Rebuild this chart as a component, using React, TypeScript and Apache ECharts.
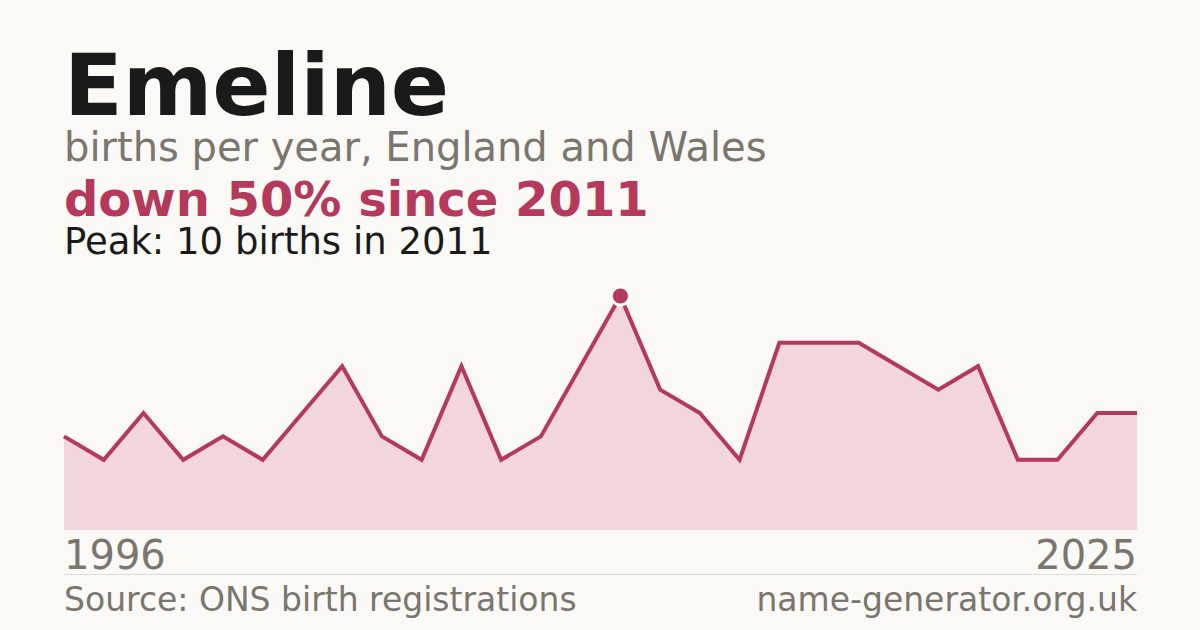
import React, { useEffect, useRef } from 'react';
import * as echarts from 'echarts';

// ONS suppresses counts under 3, so two years have no entry
const years = ['1996', '1997', '1998', '1999', '2000', '2001', '2003', '2004', '2005', '2006', '2007', '2008', '2009', '2010', '2011', '2012', '2013', '2014', '2015', '2016', '2017', '2018', '2019', '2021', '2022', '2023', '2024', '2025'];
const births = [4, 3, 5, 3, 4, 3, 5, 7, 4, 3, 7, 3, 4, 7, 10, 6, 5, 3, 8, 8, 8, 7, 6, 7, 3, 3, 5, 5];

const nameTitle = 'Emeline';
const subtitle = 'births per year, England and Wales';
const sourceText = 'Source: ONS birth registrations';
const siteText = 'name-generator.org.uk';

const crimson = '#b5395a';
const grey = '#7a756d';
const font = '"DejaVu Sans", sans-serif';

const App: React.FC = () => {
	const chartRef = useRef<HTMLDivElement>(null);

	useEffect(() => {
		if (!chartRef.current) return;
		const chart = echarts.init(chartRef.current, undefined, { renderer: 'svg' });

		const peak = Math.max(...births);
		const peakIdx = births.indexOf(peak);
		const last = births[births.length - 1];
		const change = Math.round(((peak - last) / peak) * 100);

		const option: echarts.EChartsOption = {
			animation: false,
			backgroundColor: '#faf9f5',
			grid: { left: 64, right: 63, top: 296, bottom: 100, containLabel: false, outerBoundsMode: 'none' } as any,
			xAxis: {
				type: 'category',
				data: years,
				boundaryGap: false,
				axisLine: { show: false },
				axisTick: { show: false },
				splitLine: { show: false },
				axisLabel: {
					interval: (i: number) => i === 0 || i === years.length - 1,
					alignMinLabel: 'left',
					alignMaxLabel: 'right',
					color: grey,
					fontFamily: font,
					fontSize: 40,
					lineHeight: 36,
					margin: 7
				} as any
			},
			yAxis: {
				type: 'value',
				min: 0,
				max: peak,
				show: false
			},
			series: [
				{
					type: 'line',
					data: births,
					symbol: 'none',
					lineStyle: { color: crimson, width: 4, join: 'miter', cap: 'butt' },
					areaStyle: { color: '#f2d6db', opacity: 1 },
					z: 2
				},
				{
					type: 'scatter',
					data: [[peakIdx, peak]],
					symbol: 'circle',
					symbolSize: 18,
					itemStyle: { color: crimson, borderColor: '#ffffff', borderWidth: 3, opacity: 1 },
					z: 3
				}
			],
			graphic: [
				{
					type: 'text',
					left: 64,
					top: 42,
					style: { text: nameTitle, font: `bold 86px ${font}`, lineHeight: 80, fill: '#1a1a1a' }
				},
				{
					type: 'text',
					left: 64,
					top: 127,
					style: { text: subtitle, font: `40px ${font}`, lineHeight: 36, fill: grey }
				},
				{
					type: 'text',
					left: 64,
					top: 175,
					style: { text: `down ${change}% since ${years[peakIdx]}`, font: `bold 48px ${font}`, lineHeight: 44, fill: crimson }
				},
				{
					type: 'text',
					left: 64,
					top: 222.5,
					style: { text: `Peak: ${peak} births in ${years[peakIdx]}`, font: `37px ${font}`, lineHeight: 33, fill: '#1a1a1a' }
				},
				{
					type: 'line',
					shape: { x1: 64, y1: 574.5, x2: 1137, y2: 574.5 },
					style: { stroke: '#dedbd4', lineWidth: 1 }
				},
				{
					type: 'text',
					left: 64,
					top: 583,
					style: { text: sourceText, font: `33px ${font}`, lineHeight: 29, fill: grey }
				},
				{
					type: 'text',
					right: 63,
					top: 583,
					style: { text: siteText, font: `33px ${font}`, lineHeight: 29, fill: grey }
				}
			]
		};

		chart.setOption(option);
		return () => {
			chart.dispose();
		};
	}, []);

	return <div ref={chartRef} style={{ width: 1200, height: 630, position: 'absolute', left: 0, top: 0 }} />;
};

export default App;
